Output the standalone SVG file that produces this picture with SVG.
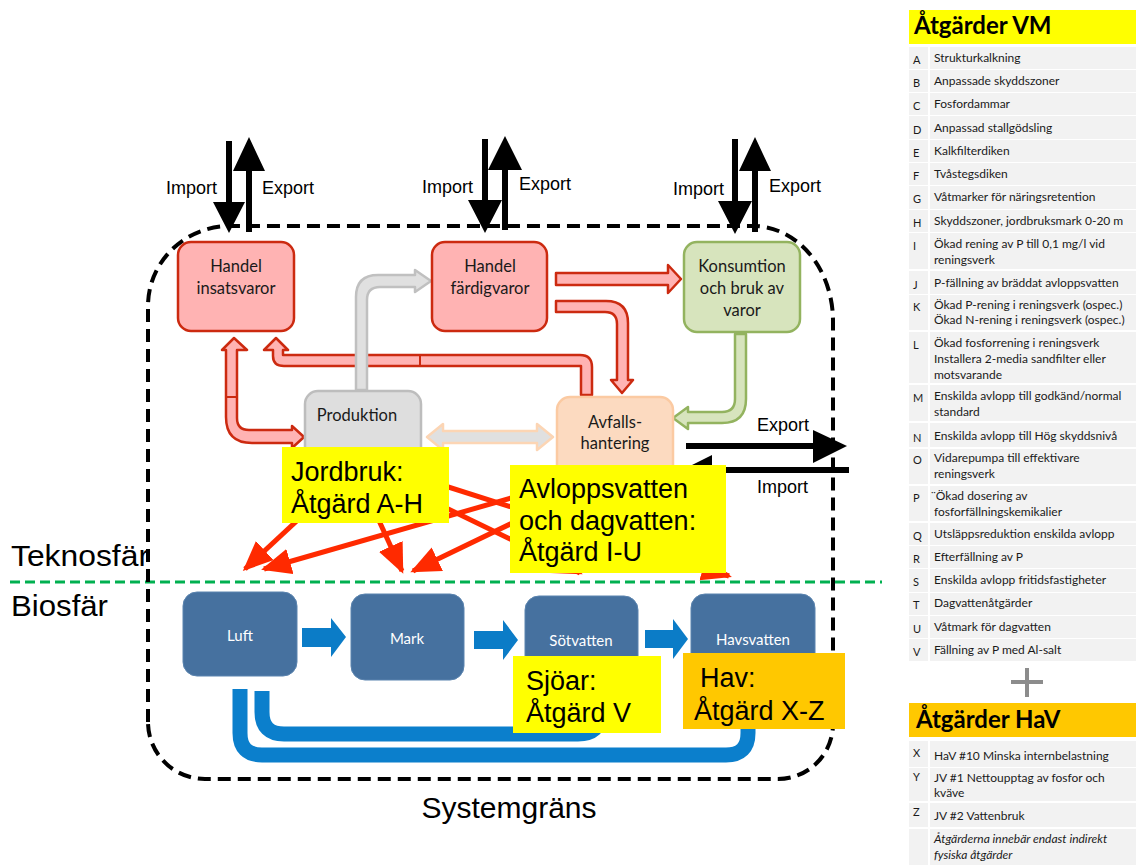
<svg xmlns="http://www.w3.org/2000/svg" width="1136" height="868" viewBox="0 0 1136 868">
  <style>
    .sans { font-family: "Liberation Sans", Arial, sans-serif; fill: #000; }
    .cal { font-family: Lato, "Open Sans", sans-serif; fill: #1a1a1a; }
    .nodetxt { font-size: 16.5px; text-anchor: middle; }
    .big { font-size: 27px; }
    .io { font-size: 18px; }
    .sphere { font-size: 30px; }
    .red-box { fill: #ffb3b3; stroke: #cc2a10; stroke-width: 2.5; }
    .green-box { fill: #d7e4bd; stroke: #93b35f; stroke-width: 2.5; }
    .gray-box { fill: #dedede; stroke: #bdbdbd; stroke-width: 2.5; }
    .peach-box { fill: #fcdac0; stroke: #fbcaa2; stroke-width: 2.5; }
    .red-flow { fill: #ffb3b3; stroke: #cc2a10; stroke-width: 2.5; stroke-linejoin: round; }
    .gray-flow { fill: #e0e0e0; stroke: #c0c0c0; stroke-width: 2.5; stroke-linejoin: round; }
    .peach-flow { fill: #e0e0e0; stroke: #fcd5b4; stroke-width: 2.5; stroke-linejoin: round; }
    .green-flow { fill: #d7e4bd; stroke: #93b35f; stroke-width: 2.5; stroke-linejoin: round; }
    .emission { stroke: #ff2a00; stroke-width: 5; fill: none; marker-end: url(#redHead); }
    .blue-box { fill: #46719f; stroke: #5b84af; stroke-width: 1; }
    .blue-txt { font-family: Lato, "Open Sans", sans-serif; font-size: 15px; fill: #ffffff; text-anchor: middle; }
    .blue-arrow { fill: #0b7cc7; }
    .loop { fill: none; stroke: #0b7fcc; stroke-width: 15; stroke-linecap: butt; }
    .yellow { fill: #ffff00; }
    .orange { fill: #ffc800; }
    .row { fill: #f2f2f2; }
    .item { font-family: Lato, "Open Sans", sans-serif; font-size: 12px; fill: #1a1a1a; }
    .letter { font-family: Lato, "Open Sans", sans-serif; font-size: 11px; fill: #1a1a1a; }
    .title { font-family: Lato, "Open Sans", sans-serif; font-weight: 700; font-size: 24px; fill: #000; }
  </style>
  <defs>
    <marker id="redHead" markerUnits="userSpaceOnUse" markerWidth="31" markerHeight="27" refX="27" refY="13" orient="auto">
      <path d="M0,0 L30,13 L0,26 Z" fill="#ff2a00"/>
    </marker>
  </defs>

  <rect width="1136" height="868" fill="#ffffff"/>

  <!-- sphere labels and divider -->
  <text class="sans sphere" x="11" y="566" textLength="138" lengthAdjust="spacingAndGlyphs">Teknosfär</text>
  <text class="sans sphere" x="11" y="616" textLength="97" lengthAdjust="spacingAndGlyphs">Biosfär</text>
  <line x1="10" y1="582" x2="882" y2="582" stroke="#00b050" stroke-width="3" stroke-dasharray="10 5"/>

  <!-- system boundary -->
  <path d="M148,722 V306 A82 80 0 0 1 230,226 H753 A80 95 0 0 1 833,321 V724 A55 55 0 0 1 778,779 H205 A57 57 0 0 1 148,722 Z" fill="none" stroke="#000" stroke-width="4" stroke-dasharray="13 7"/>
  <text class="sans" x="509" y="818" font-size="30" text-anchor="middle">Systemgräns</text>

  <!-- connectors -->
  <g id="connectors">
    <!-- Handel färdigvaror -> Konsumtion -->
    <path class="red-flow" d="M556,273 H668 V265 L681,279 L668,293 V285 H556 Z"/>
    <!-- Handel färdigvaror -> Avfallshantering -->
    <path class="red-flow" d="M556,301 H606 Q628,301 628,323 V380 H633 L622,393 L611,380 H617 V324 Q617,312 605,312 H556 Z"/>
    <!-- Avfallshantering -> Handel insatsvaror -->
    <path class="red-flow" d="M581,395 V366 H284 Q273,366 273,356 V350 H264 L276,338 L288,350 H283 V355 H580 Q592,355 592,367 V395 Z"/>
    <line x1="420" y1="355" x2="420" y2="366" stroke="#cc2a10" stroke-width="2"/>
    <!-- Handel insatsvaror <-> Produktion -->
    <path class="red-flow" d="M226,350 H222 L234,338 L247,350 H237 V418 Q237,430 249,430 H292 V426 L304,437 L292,448 V443 H252 Q226,443 226,417 Z"/>
    <line x1="226" y1="397" x2="237" y2="397" stroke="#cc2a10" stroke-width="2"/>
    <!-- Produktion -> Handel färdigvaror -->
    <path class="gray-flow" d="M356,390 V297 Q356,275 378,275 H415 V270 L431,281 L415,292 V287 H380 Q367,287 367,300 V390 Z"/>
    <!-- Produktion <-> Avfallshantering -->
    <path class="peach-flow" d="M427,437 L443,424 V431 H537 V424 L553,437 L537,450 V443 H443 V450 Z"/>
    <!-- Konsumtion -> Avfallshantering -->
    <path class="green-flow" d="M735,334 V399 Q735,412 722,412 H688 V407 L673,418 L688,429 V423 H722 Q746,423 746,399 V334 Z"/>
  </g>

  <!-- technosphere nodes -->
  <g id="handel-insatsvaror">
    <rect class="red-box" x="178" y="242" width="116" height="89" rx="13"/>
    <text class="cal nodetxt" x="236" y="272">Handel</text>
    <text class="cal nodetxt" x="236" y="294">insatsvaror</text>
  </g>
  <g id="handel-fardigvaror">
    <rect class="red-box" x="432" y="242" width="115" height="89" rx="13"/>
    <text class="cal nodetxt" x="490" y="272">Handel</text>
    <text class="cal nodetxt" x="490" y="294">färdigvaror</text>
  </g>
  <g id="konsumtion">
    <rect class="green-box" x="684" y="242" width="116" height="90" rx="13"/>
    <text class="cal nodetxt" x="742" y="272">Konsumtion</text>
    <text class="cal nodetxt" x="742" y="294">och bruk av</text>
    <text class="cal nodetxt" x="742" y="316">varor</text>
  </g>
  <g id="produktion">
    <rect class="gray-box" x="305" y="391" width="116" height="90" rx="13"/>
    <text class="cal nodetxt" x="357" y="421">Produktion</text>
  </g>
  <g id="avfallshantering">
    <rect class="peach-box" x="557" y="397" width="116" height="90" rx="13"/>
    <text class="cal nodetxt" x="615" y="428">Avfalls-</text>
    <text class="cal nodetxt" x="615" y="449">hantering</text>
  </g>

  <!-- emissions to the biosphere -->
  <g id="emissions">
    <line class="emission" x1="330" y1="490" x2="245" y2="569"/>
    <line class="emission" x1="560" y1="484" x2="264" y2="569"/>
    <line class="emission" x1="365" y1="490" x2="402" y2="571"/>
    <line class="emission" x1="560" y1="500" x2="413" y2="571"/>
    <line class="emission" x1="420" y1="478" x2="729" y2="576"/>
    <line class="emission" x1="440" y1="505" x2="580" y2="573"/>
  </g>

  <!-- import / export across the boundary -->
  <g id="trade-arrows" fill="#000">
    <path d="M226,141 H232 V202 H245 L229,233 L213,202 H226 Z"/>
    <path d="M246,232 V171 H233 L249,137 L265,171 H252 V232 Z"/>
    <path d="M482,139 H488 V200 H502 L485,233 L468,200 H482 Z"/>
    <path d="M502,230 V170 H488 L505,136 L522,170 H508 V230 Z"/>
    <path d="M732,139 H738 V201 H752 L735,234 L718,201 H732 Z"/>
    <path d="M752,232 V171 H739 L755,137 L771,171 H758 V232 Z"/>
    <path d="M686,443 H813 V430 L847,446 L813,463 V449 H686 Z"/>
    <path d="M849,467 V473 H712 V485 L682,470 L712,455 V467 Z"/>
  </g>
  <g id="trade-labels" class="sans io">
    <text x="166" y="194">Import</text>
    <text x="262" y="194">Export</text>
    <text x="422" y="193">Import</text>
    <text x="519" y="190">Export</text>
    <text x="673" y="195">Import</text>
    <text x="769" y="192">Export</text>
    <text x="757" y="431">Export</text>
    <text x="757" y="493">Import</text>
  </g>

  <!-- biosphere -->
  <g id="return-loops">
    <path class="loop" d="M240,689 V733 Q240,755 262,755 H726 Q748,755 748,733 V722"/>
    <path class="loop" d="M262,691 V712 Q262,734 284,734 H578 Q600,734 600,714"/>
  </g>
  <g id="luft">
    <rect class="blue-box" x="183" y="592" width="114" height="84" rx="14"/>
    <text class="blue-txt" x="240" y="641">Luft</text>
  </g>
  <g id="mark">
    <rect class="blue-box" x="351" y="594" width="113" height="86" rx="14"/>
    <text class="blue-txt" x="407" y="644">Mark</text>
  </g>
  <g id="sotvatten">
    <rect class="blue-box" x="525" y="596" width="113" height="86" rx="14"/>
    <text class="blue-txt" x="581" y="646">Sötvatten</text>
  </g>
  <g id="havsvatten">
    <rect class="blue-box" x="691" y="594" width="124" height="88" rx="14"/>
    <text class="blue-txt" x="753" y="645">Havsvatten</text>
  </g>
  <g id="bio-flows">
    <path class="blue-arrow" d="M302,628 H331 V618 L346,637 L331,657 V647 H302 Z"/>
    <path class="blue-arrow" d="M474,631 H503 V620 L518,640 L503,660 V649 H474 Z"/>
    <path class="blue-arrow" d="M645,630 H673 V619 L688,639 L673,659 V648 H645 Z"/>
  </g>

  <!-- measure callouts -->
  <g id="callout-jordbruk">
    <rect class="yellow" x="282" y="447" width="167" height="76"/>
    <text class="sans big" x="291" y="481">Jordbruk:</text>
    <text class="sans big" x="291" y="513">Åtgärd A-H</text>
  </g>
  <g id="callout-avlopp">
    <rect class="yellow" x="510" y="465" width="216" height="108"/>
    <text class="sans big" x="519" y="498">Avloppsvatten</text>
    <text class="sans big" x="519" y="530">och dagvatten:</text>
    <text class="sans big" x="519" y="561">Åtgärd I-U</text>
  </g>
  <g id="callout-sjoar">
    <rect class="yellow" x="513" y="656" width="148" height="77"/>
    <text class="sans big" x="526" y="690">Sjöar:</text>
    <text class="sans big" x="526" y="722">Åtgärd V</text>
  </g>
  <g id="callout-hav">
    <rect class="orange" x="683" y="653" width="162" height="76"/>
    <text class="sans big" x="700" y="687">Hav:</text>
    <text class="sans big" x="694" y="720">Åtgärd X-Z</text>
  </g>

  <!-- measure list: VM -->
  <g id="list-vm">
    <rect x="909" y="10" width="227" height="34" fill="#ffff00"/>
    <text class="title" x="914" y="34">Åtgärder VM</text>

    <rect class="row" x="909" y="47" width="19" height="22"/><rect class="row" x="930" y="47" width="206" height="22"/>
    <text class="letter" x="913" y="64">A</text><text class="item" x="934" y="62">Strukturkalkning</text>
    <rect class="row" x="909" y="70" width="19" height="22"/><rect class="row" x="930" y="70" width="206" height="22"/>
    <text class="letter" x="913" y="87">B</text><text class="item" x="934" y="85">Anpassade skyddszoner</text>
    <rect class="row" x="909" y="93" width="19" height="22"/><rect class="row" x="930" y="93" width="206" height="22"/>
    <text class="letter" x="913" y="110">C</text><text class="item" x="934" y="108">Fosfordammar</text>
    <rect class="row" x="909" y="116" width="19" height="23"/><rect class="row" x="930" y="116" width="206" height="23"/>
    <text class="letter" x="913" y="134">D</text><text class="item" x="934" y="132">Anpassad stallgödsling</text>
    <rect class="row" x="909" y="140" width="19" height="22"/><rect class="row" x="930" y="140" width="206" height="22"/>
    <text class="letter" x="913" y="157">E</text><text class="item" x="934" y="155">Kalkfilterdiken</text>
    <rect class="row" x="909" y="163" width="19" height="22"/><rect class="row" x="930" y="163" width="206" height="22"/>
    <text class="letter" x="913" y="180">F</text><text class="item" x="934" y="178">Tvåstegsdiken</text>
    <rect class="row" x="909" y="186" width="19" height="23"/><rect class="row" x="930" y="186" width="206" height="23"/>
    <text class="letter" x="913" y="203">G</text><text class="item" x="934" y="201">Våtmarker för näringsretention</text>
    <rect class="row" x="909" y="210" width="19" height="22"/><rect class="row" x="930" y="210" width="206" height="22"/>
    <text class="letter" x="913" y="227">H</text><text class="item" x="934" y="225">Skyddszoner, jordbruksmark 0-20 m</text>
    <rect class="row" x="909" y="233" width="19" height="36"/><rect class="row" x="930" y="233" width="206" height="36"/>
    <text class="letter" x="913" y="250">I</text><text class="item" x="934" y="248">Ökad rening av P till 0,1 mg/l vid</text><text class="item" x="934" y="264">reningsverk</text>
    <rect class="row" x="909" y="271" width="19" height="23"/><rect class="row" x="930" y="271" width="206" height="23"/>
    <text class="letter" x="913" y="289">J</text><text class="item" x="934" y="287">P-fällning av bräddat avloppsvatten</text>
    <rect class="row" x="909" y="295" width="19" height="35"/><rect class="row" x="930" y="295" width="206" height="35"/>
    <text class="letter" x="913" y="311">K</text><text class="item" x="934" y="309">Ökad P-rening i reningsverk (ospec.)</text><text class="item" x="934" y="324">Ökad N-rening i reningsverk (ospec.)</text>
    <rect class="row" x="909" y="332" width="19" height="51"/><rect class="row" x="930" y="332" width="206" height="51"/>
    <text class="letter" x="913" y="349">L</text><text class="item" x="934" y="347">Ökad fosforrening i reningsverk</text><text class="item" x="934" y="363">Installera 2-media sandfilter eller</text><text class="item" x="934" y="379">motsvarande</text>
    <rect class="row" x="909" y="385" width="19" height="36"/><rect class="row" x="930" y="385" width="206" height="36"/>
    <text class="letter" x="913" y="402">M</text><text class="item" x="934" y="400">Enskilda avlopp till godkänd/normal</text><text class="item" x="934" y="416">standard</text>
    <rect class="row" x="909" y="423" width="19" height="24"/><rect class="row" x="930" y="423" width="206" height="24"/>
    <text class="letter" x="913" y="442">N</text><text class="item" x="934" y="440">Enskilda avlopp till Hög skyddsnivå</text>
    <rect class="row" x="909" y="449" width="19" height="35"/><rect class="row" x="930" y="449" width="206" height="35"/>
    <text class="letter" x="913" y="464">O</text><text class="item" x="934" y="462">Vidarepumpa till effektivare</text><text class="item" x="934" y="478">reningsverk</text>
    <rect class="row" x="909" y="486" width="19" height="35"/><rect class="row" x="930" y="486" width="206" height="35"/>
    <text class="letter" x="913" y="502">P</text><text class="item" x="931" y="500">¨Ökad dosering av</text><text class="item" x="934" y="516">fosforfällningskemikalier</text>
    <rect class="row" x="909" y="523" width="19" height="22"/><rect class="row" x="930" y="523" width="206" height="22"/>
    <text class="letter" x="913" y="540">Q</text><text class="item" x="934" y="538">Utsläppsreduktion enskilda avlopp</text>
    <rect class="row" x="909" y="546" width="19" height="22"/><rect class="row" x="930" y="546" width="206" height="22"/>
    <text class="letter" x="913" y="563">R</text><text class="item" x="934" y="561">Efterfällning av P</text>
    <rect class="row" x="909" y="569" width="19" height="23"/><rect class="row" x="930" y="569" width="206" height="23"/>
    <text class="letter" x="913" y="586">S</text><text class="item" x="934" y="584">Enskilda avlopp fritidsfastigheter</text>
    <rect class="row" x="909" y="593" width="19" height="22"/><rect class="row" x="930" y="593" width="206" height="22"/>
    <text class="letter" x="913" y="609">T</text><text class="item" x="934" y="607">Dagvattenåtgärder</text>
    <rect class="row" x="909" y="616" width="19" height="22"/><rect class="row" x="930" y="616" width="206" height="22"/>
    <text class="letter" x="913" y="633">U</text><text class="item" x="934" y="631">Våtmark för dagvatten</text>
    <rect class="row" x="909" y="639" width="19" height="22"/><rect class="row" x="930" y="639" width="206" height="22"/>
    <text class="letter" x="913" y="656">V</text><text class="item" x="934" y="654">Fällning av P med Al-salt</text>
  </g>

  <!-- plus sign between the lists -->
  <path d="M1011,682 H1043 M1027,668 V697" stroke="#8c8c8c" stroke-width="4" fill="none"/>

  <!-- measure list: HaV -->
  <g id="list-hav">
    <rect x="909" y="703" width="227" height="34" fill="#ffc800"/>
    <text class="title" x="916" y="728">Åtgärder HaV</text>

    <rect class="row" x="909" y="741" width="19" height="26"/><rect class="row" x="930" y="741" width="206" height="26"/>
    <text class="letter" x="913" y="757">X</text><text class="item" x="934" y="760">HaV #10 Minska internbelastning</text>
    <rect class="row" x="909" y="768" width="19" height="33"/><rect class="row" x="930" y="768" width="206" height="33"/>
    <text class="letter" x="913" y="781">Y</text><text class="item" x="934" y="782">JV #1 Nettoupptag av fosfor och</text><text class="item" x="934" y="797">kväve</text>
    <rect class="row" x="909" y="803" width="19" height="24"/><rect class="row" x="930" y="803" width="206" height="24"/>
    <text class="letter" x="913" y="816">Z</text><text class="item" x="934" y="820">JV #2 Vattenbruk</text>
    <rect class="row" x="909" y="829" width="19" height="36"/><rect class="row" x="930" y="829" width="206" height="36"/>
    <text class="item" x="934" y="843" font-style="italic">Åtgärderna innebär endast indirekt</text><text class="item" x="934" y="859" font-style="italic">fysiska åtgärder</text>
  </g>
</svg>
